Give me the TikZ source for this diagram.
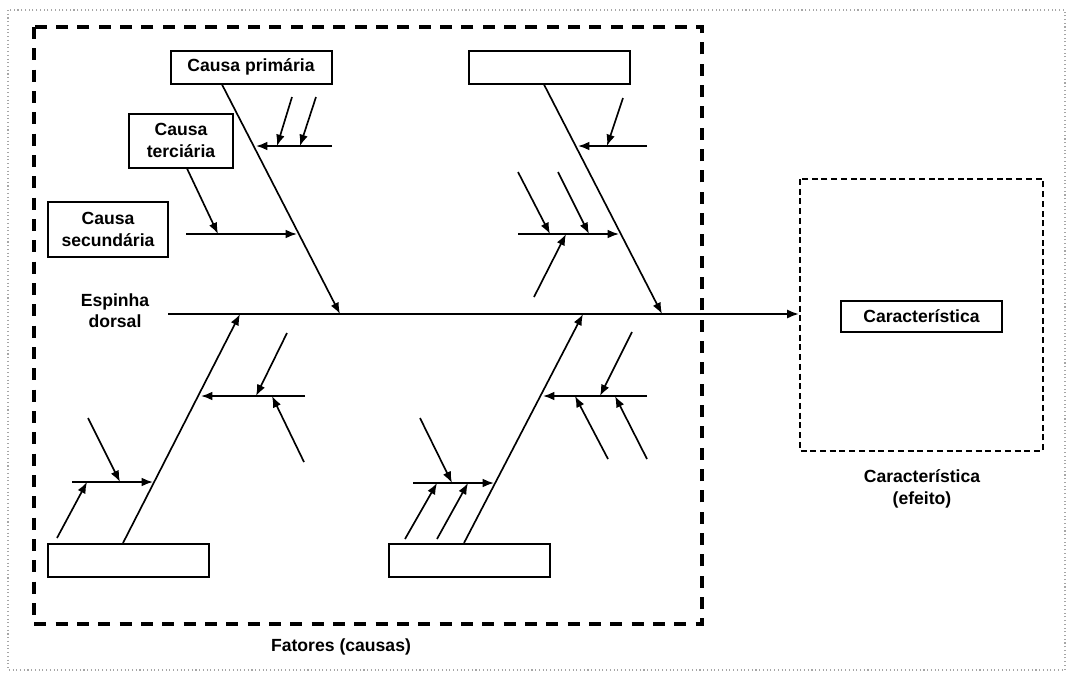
\documentclass[tikz,border=0pt]{standalone}
\usepackage{fontspec}
\setmainfont{Liberation Sans}
\usetikzlibrary{arrows.meta}
\begin{document}
\begin{tikzpicture}[x=0.75pt,y=-0.75pt,
  txt/.style={font=\bfseries\fontsize{13.2}{16}\selectfont, align=center, inner sep=0pt},
  cbox/.style={txt, draw, line width=1.5pt, fill=white},
  wide/.style={minimum width=120.75pt, minimum height=24.75pt},
  tip/.style={-{Latex[length=8.5pt,width=6.5pt]}},
  bone/.style={tip, line width=1.25pt},
  twig/.style={tip, line width=1.25pt},
  spine/.style={line width=1.7pt, -{Latex[length=9pt,width=7pt]}},
  causeframe/.style={line width=2.5pt, dash pattern=on 9pt off 7pt},
  effectframe/.style={line width=1.3pt, dash pattern=on 4.5pt off 2.8pt},
  edge/.style={black!35, line width=0.8pt, dotted}]
\useasboundingbox (0,0) rectangle (1068,676);
\fill[white] (0,0) rectangle (1068,676);

% outer frame and the two grouping frames
\draw[edge] (8,10) rectangle (1065,670);
\draw[causeframe] (34,27) rectangle (702,624);
\draw[effectframe] (800,179) rectangle (1043,451);

% boxes
\node[cbox, wide] (p1) at (251,67) {Causa primária};
\node[cbox, wide] (p2) at (549,67) {};
\node[cbox, wide] (p3) at (128.5,560.5) {};
\node[cbox, wide] (p4) at (469.5,560.5) {};
\node[cbox, minimum width=78pt, minimum height=40.5pt] (ter) at (181,140.5) {Causa\\terciária};
\node[cbox, minimum width=90pt, minimum height=41.25pt] (sec) at (108,229.5) {Causa\\secundária};
\node[cbox, minimum width=120.75pt, minimum height=23.25pt] (eff) at (921.5,316.5) {Característica};

% labels
\node[txt] (dorsal) at (115,311) {Espinha\\dorsal};
\node[txt] (fatores) at (341,647) {Fatores (causas)};
\node[txt] (efeito) at (922,489) {Característica\\(efeito)};

% spine
\coordinate (s0) at (168,314);
\coordinate (s1) at (799,314);
\draw[spine] (s0) -- (s1);

% main bones
\coordinate (b1s) at (p1.south -| 222,0);
\coordinate (b1e) at (340,314);
\coordinate (b2s) at (p2.south -| 544,0);
\coordinate (b2e) at (662,314);
\coordinate (b3s) at (p3.north -| 123,0);
\coordinate (b3e) at (240,314);
\coordinate (b4s) at (p4.north -| 464,0);
\coordinate (b4e) at (583,314);
\draw[bone] (b1s) -- (b1e);
\draw[bone] (b2s) -- (b2e);
\draw[bone] (b3s) -- (b3e);
\draw[bone] (b4s) -- (b4e);

% secondary causes: horizontal branches
\coordinate (as) at (332,146); \coordinate (ae) at (256,146);
\coordinate (bs) at (186,234); \coordinate (be) at (297,234);
\coordinate (cs) at (647,146); \coordinate (ce) at (578,146);
\coordinate (ds) at (518,234); \coordinate (de) at (619,234);
\coordinate (es) at (305,396); \coordinate (ee) at (201,396);
\coordinate (fs) at (72,482);  \coordinate (fe) at (153,482);
\coordinate (gs) at (647,396); \coordinate (ge) at (543,396);
\coordinate (hs) at (413,483); \coordinate (he) at (494,483);
\foreach \n in {a,b,c,d,e,f,g,h}
  \draw[twig] (\n s) -- (\n e);

% tertiary causes: small arrows onto the branches
\coordinate (a1s) at (292,97);  \coordinate (a1e) at (277,146);
\coordinate (a2s) at (316,97);  \coordinate (a2e) at (300,146);
\coordinate (b1t) at (ter.south -| 187,0); \coordinate (b1u) at (218,234);
\coordinate (c1s) at (623,98);  \coordinate (c1e) at (607,146);
\coordinate (d1s) at (518,172); \coordinate (d1e) at (550,234);
\coordinate (d2s) at (558,172); \coordinate (d2e) at (589,234);
\coordinate (d3s) at (534,297); \coordinate (d3e) at (566,234);
\coordinate (e1s) at (287,333); \coordinate (e1e) at (256,396);
\coordinate (e2s) at (304,462); \coordinate (e2e) at (272,396);
\coordinate (f1s) at (88,418);  \coordinate (f1e) at (120,482);
\coordinate (f2s) at (57,538);  \coordinate (f2e) at (87,482);
\coordinate (g1s) at (632,332); \coordinate (g1e) at (600,396);
\coordinate (g2s) at (608,459); \coordinate (g2e) at (575,396);
\coordinate (g3s) at (647,459); \coordinate (g3e) at (615,396);
\coordinate (h1s) at (420,418); \coordinate (h1e) at (452,483);
\coordinate (h2s) at (405,539); \coordinate (h2e) at (437,483);
\coordinate (h3s) at (437,539); \coordinate (h3e) at (468,483);
\draw[twig] (b1t) -- (b1u);
\foreach \n in {a1,a2,c1,d1,d2,d3,e1,e2,f1,f2,g1,g2,g3,h1,h2,h3}
  \draw[twig] (\n s) -- (\n e);
\end{tikzpicture}
\end{document}
